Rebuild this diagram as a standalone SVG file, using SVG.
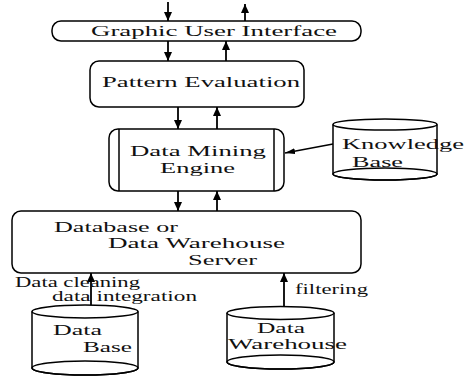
<svg xmlns="http://www.w3.org/2000/svg" width="467" height="377" viewBox="0 0 467 377">
<style>
.s{fill:#fff;stroke:#000;stroke-width:1.5}
.n{fill:none;stroke:#000;stroke-width:1.5}
.l{fill:none;stroke:#000;stroke-width:1.8}
text{font-family:"Liberation Serif","Times New Roman",serif;font-size:15px;fill:#111}
.sm{font-size:14px}
</style>
<defs>
<marker id="a" markerUnits="userSpaceOnUse" markerWidth="9" markerHeight="10" refX="9" refY="4" orient="auto"><path d="M0,0 L9,4 L0,8 z" fill="#000"/></marker>
<marker id="b" markerUnits="userSpaceOnUse" markerWidth="10" markerHeight="6" refX="10" refY="3" orient="auto"><path d="M0,0 L10,3 L0,6 z" fill="#000"/></marker>
</defs>
<rect width="467" height="377" fill="#fff"/>
<g id="connectors">
<line class="l" x1="168" y1="2" x2="168" y2="21" marker-end="url(#a)"/>
<line class="l" x1="245" y1="21" x2="245" y2="4" marker-end="url(#a)"/>
<line class="l" x1="168" y1="41" x2="168" y2="61" marker-end="url(#a)"/>
<line class="l" x1="226" y1="61" x2="226" y2="41" marker-end="url(#a)"/>
<line class="l" x1="178" y1="107" x2="178" y2="129" marker-end="url(#a)"/>
<line class="l" x1="217" y1="129" x2="217" y2="107" marker-end="url(#a)"/>
<line class="l" x1="178" y1="191" x2="178" y2="211" marker-end="url(#a)"/>
<line class="l" x1="217" y1="211" x2="217" y2="191" marker-end="url(#a)"/>
<line class="n" x1="333" y1="144" x2="285" y2="153" marker-end="url(#b)"/>
<line class="l" x1="91" y1="310" x2="91" y2="273" marker-end="url(#a)"/>
<line class="l" x1="284" y1="311" x2="284" y2="273" marker-end="url(#a)"/>
</g>
<g id="gui">
<rect class="s" x="52" y="21" width="309" height="20" rx="9" ry="9"/>
<text x="91" y="36" textLength="246" lengthAdjust="spacingAndGlyphs">Graphic User Interface</text>
</g>
<g id="pattern">
<rect class="s" x="90" y="61" width="214" height="46" rx="9" ry="9"/>
<text x="102" y="87" textLength="198" lengthAdjust="spacingAndGlyphs">Pattern Evaluation</text>
</g>
<g id="dme">
<rect class="s" x="109" y="129" width="175" height="62" rx="9" ry="9"/>
<line class="n" x1="119" y1="129" x2="119" y2="191"/>
<line class="n" x1="274" y1="129" x2="274" y2="191"/>
<text x="130" y="156" textLength="136" lengthAdjust="spacingAndGlyphs">Data Mining</text>
<text x="160" y="173" textLength="75" lengthAdjust="spacingAndGlyphs">Engine</text>
</g>
<g id="kb">
<path class="s" d="M333,124.5 L333,174 A52,6 0 0 0 437,174 L437,124.5"/>
<ellipse class="s" cx="385" cy="124.5" rx="52" ry="5.5"/>
<ellipse class="n" cx="385" cy="174" rx="52" ry="6"/>
<text x="342" y="149" textLength="122" lengthAdjust="spacingAndGlyphs">Knowledge</text>
<text x="352" y="167" textLength="51" lengthAdjust="spacingAndGlyphs">Base</text>
</g>
<g id="server">
<rect class="s" x="12" y="211" width="349" height="62" rx="9" ry="9"/>
<text x="54" y="232" textLength="124" lengthAdjust="spacingAndGlyphs">Database or</text>
<text x="108" y="248" textLength="177" lengthAdjust="spacingAndGlyphs">Data Warehouse</text>
<text x="188" y="265" textLength="69" lengthAdjust="spacingAndGlyphs">Server</text>
</g>
<g id="labels">
<text class="sm" x="15" y="287" textLength="125" lengthAdjust="spacingAndGlyphs">Data cleaning</text>
<text class="sm" x="52" y="301" textLength="145" lengthAdjust="spacingAndGlyphs">data integration</text>
<text x="295" y="294" textLength="73" lengthAdjust="spacingAndGlyphs">filtering</text>
</g>
<g id="database">
<path class="s" d="M32,311.5 L32,368 A53,7 0 0 0 138,368 L138,311.5"/>
<ellipse class="s" cx="85" cy="311.5" rx="53" ry="6.5"/>
<ellipse class="n" cx="85" cy="368" rx="53" ry="7"/>
<text x="53" y="335" textLength="49" lengthAdjust="spacingAndGlyphs">Data</text>
<text x="83" y="352" textLength="49" lengthAdjust="spacingAndGlyphs">Base</text>
</g>
<g id="warehouse">
<path class="s" d="M227,313 L227,362 A53.5,7 0 0 0 334,362 L334,313"/>
<ellipse class="s" cx="280.5" cy="313" rx="53.5" ry="6.5"/>
<ellipse class="n" cx="280.5" cy="362" rx="53.5" ry="7"/>
<text class="sm" x="257" y="333" textLength="48" lengthAdjust="spacingAndGlyphs">Data</text>
<text class="sm" x="228" y="349" textLength="119" lengthAdjust="spacingAndGlyphs">Warehouse</text>
</g>
</svg>
